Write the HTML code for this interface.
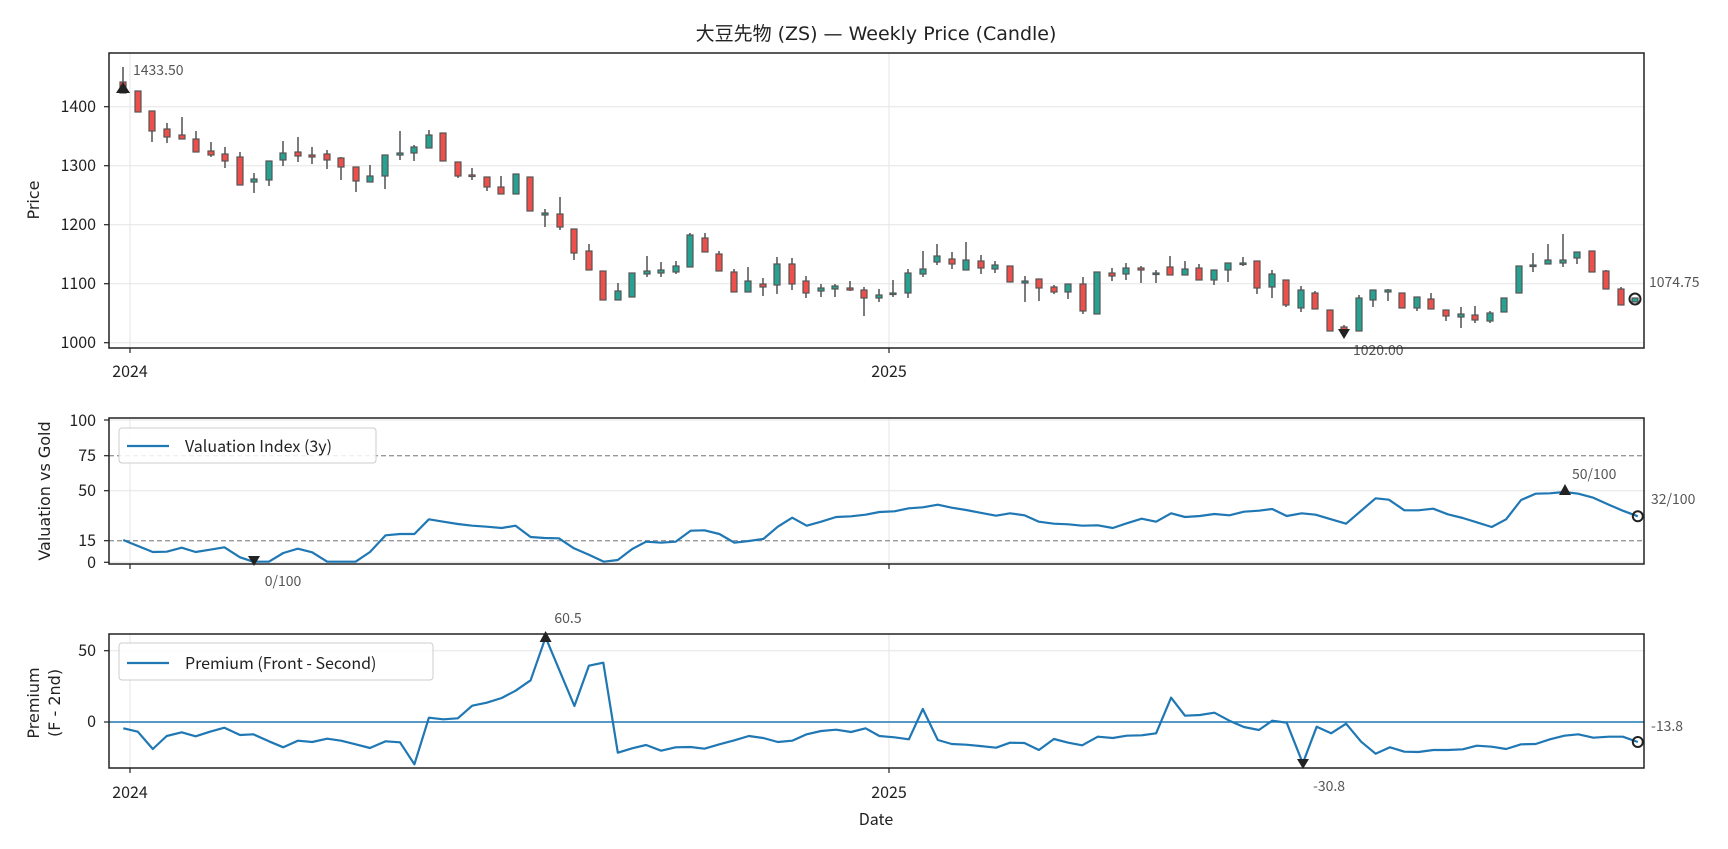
<!DOCTYPE html>
<html><head><meta charset="utf-8"><style>
html,body{margin:0;padding:0;background:#fff}
svg{display:block}
.tk{font-family:"Noto Sans CJK JP","IPAGothic",sans-serif;font-size:16px;fill:#222}
.an{font-family:"Noto Sans CJK JP","IPAGothic",sans-serif;font-size:14px;fill:#555}
.lb{font-family:"DejaVu Sans","Liberation Sans",sans-serif;font-size:16px;fill:#222}
.r{fill:#ef4f4a;stroke:#555;stroke-width:1.2}
.t{fill:#26a192;stroke:#555;stroke-width:1.2}
.w{stroke:#444;stroke-width:1.4}
.g{stroke:#e6e6e6;stroke-width:1}
</style></head><body>
<svg width="1728" height="849" xmlns="http://www.w3.org/2000/svg">
<text x="876" y="40" text-anchor="middle" font-family="DejaVu Sans, Noto Sans CJK JP, sans-serif" font-size="19" fill="#222">大豆先物 (ZS) — Weekly Price (Candle)</text>

<g class="g">
<line x1="109" x2="1644" y1="106.7" y2="106.7"/><line x1="109" x2="1644" y1="165.7" y2="165.7"/><line x1="109" x2="1644" y1="224.7" y2="224.7"/><line x1="109" x2="1644" y1="283.7" y2="283.7"/><line x1="109" x2="1644" y1="342.7" y2="342.7"/>
<line x1="130" x2="130" y1="53" y2="348"/><line x1="889" x2="889" y1="53" y2="348"/>
<line x1="109" x2="1644" y1="490.7" y2="490.7"/><line x1="109" x2="1644" y1="562.3" y2="562.3"/><line x1="109" x2="1644" y1="420" y2="420"/>
<line x1="130" x2="130" y1="418" y2="564"/><line x1="889" x2="889" y1="418" y2="564"/>
<line x1="109" x2="1644" y1="650.7" y2="650.7"/>
<line x1="130" x2="130" y1="634" y2="768"/><line x1="889" x2="889" y1="634" y2="768"/>
</g>
<g id="candles">
<line class="w" x1="123" x2="123" y1="67" y2="93"/><rect class="r" x="120" y="82" width="6" height="11"/>
<line class="w" x1="138" x2="138" y1="91" y2="112"/><rect class="r" x="135" y="91" width="6" height="21"/>
<line class="w" x1="152" x2="152" y1="111" y2="142"/><rect class="r" x="149" y="111" width="6" height="20"/>
<line class="w" x1="167" x2="167" y1="123" y2="143"/><rect class="r" x="164" y="129" width="6" height="8"/>
<line class="w" x1="182" x2="182" y1="117" y2="139"/><rect class="r" x="179" y="135" width="6" height="4"/>
<line class="w" x1="196" x2="196" y1="131" y2="152"/><rect class="r" x="193" y="139" width="6" height="13"/>
<line class="w" x1="211" x2="211" y1="142" y2="157"/><rect class="r" x="208" y="151" width="6" height="4"/>
<line class="w" x1="225" x2="225" y1="147" y2="168"/><rect class="r" x="222" y="154" width="6" height="7"/>
<line class="w" x1="240" x2="240" y1="152" y2="185"/><rect class="r" x="237" y="157" width="6" height="28"/>
<line class="w" x1="254" x2="254" y1="173" y2="193"/><rect class="t" x="251" y="179" width="6" height="3"/>
<line class="w" x1="269" x2="269" y1="161" y2="186"/><rect class="t" x="266" y="161" width="6" height="19"/>
<line class="w" x1="283" x2="283" y1="141" y2="166"/><rect class="t" x="280" y="153" width="6" height="7"/>
<line class="w" x1="298" x2="298" y1="137" y2="162"/><rect class="r" x="295" y="152" width="6" height="4"/>
<line class="w" x1="312" x2="312" y1="147" y2="164"/><rect class="r" x="309" y="155" width="6" height="2"/>
<line class="w" x1="327" x2="327" y1="150" y2="169"/><rect class="r" x="324" y="154" width="6" height="6"/>
<line class="w" x1="341" x2="341" y1="157" y2="180"/><rect class="r" x="338" y="158" width="6" height="9"/>
<line class="w" x1="356" x2="356" y1="167" y2="192"/><rect class="r" x="353" y="167" width="6" height="14"/>
<line class="w" x1="370" x2="370" y1="165" y2="182"/><rect class="t" x="367" y="176" width="6" height="6"/>
<line class="w" x1="385" x2="385" y1="155" y2="189"/><rect class="t" x="382" y="155" width="6" height="21"/>
<line class="w" x1="400" x2="400" y1="131" y2="160"/><rect class="t" x="397" y="153" width="6" height="2"/>
<line class="w" x1="414" x2="414" y1="145" y2="161"/><rect class="t" x="411" y="147" width="6" height="6"/>
<line class="w" x1="429" x2="429" y1="130" y2="148"/><rect class="t" x="426" y="135" width="6" height="13"/>
<line class="w" x1="443" x2="443" y1="133" y2="161"/><rect class="r" x="440" y="133" width="6" height="28"/>
<line class="w" x1="458" x2="458" y1="162" y2="178"/><rect class="r" x="455" y="162" width="6" height="14"/>
<line class="w" x1="472" x2="472" y1="168" y2="180"/><rect class="r" x="469" y="175" width="6" height="1.5"/>
<line class="w" x1="487" x2="487" y1="177" y2="191"/><rect class="r" x="484" y="177" width="6" height="10"/>
<line class="w" x1="501" x2="501" y1="176" y2="194"/><rect class="r" x="498" y="187" width="6" height="7"/>
<line class="w" x1="516" x2="516" y1="174" y2="194"/><rect class="t" x="513" y="174" width="6" height="20"/>
<line class="w" x1="530" x2="530" y1="177" y2="211"/><rect class="r" x="527" y="177" width="6" height="34"/>
<line class="w" x1="545" x2="545" y1="209" y2="227"/><rect class="t" x="542" y="213" width="6" height="2"/>
<line class="w" x1="560" x2="560" y1="197" y2="230"/><rect class="r" x="557" y="214" width="6" height="13"/>
<line class="w" x1="574" x2="574" y1="229" y2="260"/><rect class="r" x="571" y="229" width="6" height="24"/>
<line class="w" x1="589" x2="589" y1="244" y2="270"/><rect class="r" x="586" y="251" width="6" height="19"/>
<line class="w" x1="603" x2="603" y1="271" y2="300"/><rect class="r" x="600" y="271" width="6" height="29"/>
<line class="w" x1="618" x2="618" y1="283" y2="300"/><rect class="t" x="615" y="291" width="6" height="9"/>
<line class="w" x1="632" x2="632" y1="273" y2="297"/><rect class="t" x="629" y="273" width="6" height="24"/>
<line class="w" x1="647" x2="647" y1="256" y2="277"/><rect class="t" x="644" y="271" width="6" height="3"/>
<line class="w" x1="661" x2="661" y1="262" y2="277"/><rect class="t" x="658" y="270" width="6" height="3"/>
<line class="w" x1="676" x2="676" y1="261" y2="274"/><rect class="t" x="673" y="266" width="6" height="6"/>
<line class="w" x1="690" x2="690" y1="233" y2="267"/><rect class="t" x="687" y="235" width="6" height="32"/>
<line class="w" x1="705" x2="705" y1="233" y2="252"/><rect class="r" x="702" y="238" width="6" height="14"/>
<line class="w" x1="719" x2="719" y1="251" y2="271"/><rect class="r" x="716" y="254" width="6" height="17"/>
<line class="w" x1="734" x2="734" y1="269" y2="292"/><rect class="r" x="731" y="272" width="6" height="20"/>
<line class="w" x1="748" x2="748" y1="267" y2="292"/><rect class="t" x="745" y="281" width="6" height="11"/>
<line class="w" x1="763" x2="763" y1="278" y2="296"/><rect class="r" x="760" y="284" width="6" height="3"/>
<line class="w" x1="777" x2="777" y1="257" y2="294"/><rect class="t" x="774" y="264" width="6" height="21"/>
<line class="w" x1="792" x2="792" y1="258" y2="290"/><rect class="r" x="789" y="264" width="6" height="20"/>
<line class="w" x1="806" x2="806" y1="276" y2="298"/><rect class="r" x="803" y="281" width="6" height="12"/>
<line class="w" x1="821" x2="821" y1="284" y2="297"/><rect class="t" x="818" y="288" width="6" height="3"/>
<line class="w" x1="835" x2="835" y1="284" y2="297"/><rect class="t" x="832" y="286" width="6" height="3"/>
<line class="w" x1="850" x2="850" y1="281" y2="291"/><rect class="r" x="847" y="288" width="6" height="2"/>
<line class="w" x1="864" x2="864" y1="287" y2="316"/><rect class="r" x="861" y="290" width="6" height="8"/>
<line class="w" x1="879" x2="879" y1="289" y2="302"/><rect class="t" x="876" y="295" width="6" height="3"/>
<line class="w" x1="893" x2="893" y1="280" y2="297"/><rect class="t" x="890" y="293" width="6" height="1.5"/>
<line class="w" x1="908" x2="908" y1="269" y2="298"/><rect class="t" x="905" y="273" width="6" height="20"/>
<line class="w" x1="923" x2="923" y1="251" y2="277"/><rect class="t" x="920" y="269" width="6" height="5"/>
<line class="w" x1="937" x2="937" y1="244" y2="265"/><rect class="t" x="934" y="256" width="6" height="6"/>
<line class="w" x1="952" x2="952" y1="252" y2="269"/><rect class="r" x="949" y="259" width="6" height="5"/>
<line class="w" x1="966" x2="966" y1="242" y2="270"/><rect class="t" x="963" y="260" width="6" height="10"/>
<line class="w" x1="981" x2="981" y1="255" y2="274"/><rect class="r" x="978" y="261" width="6" height="7"/>
<line class="w" x1="995" x2="995" y1="261" y2="273"/><rect class="t" x="992" y="265" width="6" height="4"/>
<line class="w" x1="1010" x2="1010" y1="266" y2="282"/><rect class="r" x="1007" y="266" width="6" height="16"/>
<line class="w" x1="1025" x2="1025" y1="276" y2="302"/><rect class="t" x="1022" y="281" width="6" height="2"/>
<line class="w" x1="1039" x2="1039" y1="279" y2="301"/><rect class="r" x="1036" y="279" width="6" height="9"/>
<line class="w" x1="1054" x2="1054" y1="285" y2="294"/><rect class="r" x="1051" y="287" width="6" height="5"/>
<line class="w" x1="1068" x2="1068" y1="284" y2="299"/><rect class="t" x="1065" y="284" width="6" height="8"/>
<line class="w" x1="1083" x2="1083" y1="277" y2="314"/><rect class="r" x="1080" y="284" width="6" height="27"/>
<line class="w" x1="1097" x2="1097" y1="272" y2="314"/><rect class="t" x="1094" y="272" width="6" height="42"/>
<line class="w" x1="1112" x2="1112" y1="268" y2="281"/><rect class="r" x="1109" y="273" width="6" height="3"/>
<line class="w" x1="1126" x2="1126" y1="263" y2="280"/><rect class="t" x="1123" y="268" width="6" height="6"/>
<line class="w" x1="1141" x2="1141" y1="266" y2="283"/><rect class="r" x="1138" y="268" width="6" height="2"/>
<line class="w" x1="1156" x2="1156" y1="270" y2="283"/><rect class="t" x="1153" y="273" width="6" height="1.5"/>
<line class="w" x1="1170" x2="1170" y1="256" y2="275"/><rect class="r" x="1167" y="267" width="6" height="8"/>
<line class="w" x1="1185" x2="1185" y1="261" y2="275"/><rect class="t" x="1182" y="269" width="6" height="6"/>
<line class="w" x1="1199" x2="1199" y1="264" y2="280"/><rect class="r" x="1196" y="268" width="6" height="12"/>
<line class="w" x1="1214" x2="1214" y1="270" y2="285"/><rect class="t" x="1211" y="270" width="6" height="10"/>
<line class="w" x1="1228" x2="1228" y1="263" y2="282"/><rect class="t" x="1225" y="263" width="6" height="7"/>
<line class="w" x1="1243" x2="1243" y1="257" y2="266"/><rect class="t" x="1240" y="263" width="6" height="1.5"/>
<line class="w" x1="1257" x2="1257" y1="261" y2="294"/><rect class="r" x="1254" y="261" width="6" height="27"/>
<line class="w" x1="1272" x2="1272" y1="270" y2="298"/><rect class="t" x="1269" y="274" width="6" height="13"/>
<line class="w" x1="1286" x2="1286" y1="280" y2="307"/><rect class="r" x="1283" y="280" width="6" height="25"/>
<line class="w" x1="1301" x2="1301" y1="286" y2="312"/><rect class="t" x="1298" y="290" width="6" height="18"/>
<line class="w" x1="1315" x2="1315" y1="291" y2="309"/><rect class="r" x="1312" y="293" width="6" height="16"/>
<line class="w" x1="1330" x2="1330" y1="310" y2="331"/><rect class="r" x="1327" y="310" width="6" height="21"/>
<line class="w" x1="1344" x2="1344" y1="325" y2="332"/><rect class="r" x="1341" y="327" width="6" height="3"/>
<line class="w" x1="1359" x2="1359" y1="295" y2="331"/><rect class="t" x="1356" y="298" width="6" height="33"/>
<line class="w" x1="1373" x2="1373" y1="290" y2="307"/><rect class="t" x="1370" y="290" width="6" height="10"/>
<line class="w" x1="1388" x2="1388" y1="289" y2="301"/><rect class="t" x="1385" y="290" width="6" height="2"/>
<line class="w" x1="1402" x2="1402" y1="293" y2="308"/><rect class="r" x="1399" y="293" width="6" height="15"/>
<line class="w" x1="1417" x2="1417" y1="297" y2="311"/><rect class="t" x="1414" y="297" width="6" height="11"/>
<line class="w" x1="1431" x2="1431" y1="293" y2="309"/><rect class="r" x="1428" y="299" width="6" height="10"/>
<line class="w" x1="1446" x2="1446" y1="310" y2="321"/><rect class="r" x="1443" y="310" width="6" height="6"/>
<line class="w" x1="1461" x2="1461" y1="307" y2="328"/><rect class="t" x="1458" y="314" width="6" height="3"/>
<line class="w" x1="1475" x2="1475" y1="306" y2="323"/><rect class="r" x="1472" y="315" width="6" height="5"/>
<line class="w" x1="1490" x2="1490" y1="311" y2="323"/><rect class="t" x="1487" y="313" width="6" height="8"/>
<line class="w" x1="1504" x2="1504" y1="298" y2="312"/><rect class="t" x="1501" y="298" width="6" height="14"/>
<line class="w" x1="1519" x2="1519" y1="266" y2="293"/><rect class="t" x="1516" y="266" width="6" height="27"/>
<line class="w" x1="1533" x2="1533" y1="253" y2="272"/><rect class="t" x="1530" y="265" width="6" height="1.5"/>
<line class="w" x1="1548" x2="1548" y1="244" y2="264"/><rect class="t" x="1545" y="260" width="6" height="4"/>
<line class="w" x1="1563" x2="1563" y1="234" y2="267"/><rect class="t" x="1560" y="260" width="6" height="3"/>
<line class="w" x1="1577" x2="1577" y1="252" y2="264"/><rect class="t" x="1574" y="252" width="6" height="6"/>
<line class="w" x1="1592" x2="1592" y1="251" y2="272"/><rect class="r" x="1589" y="251" width="6" height="21"/>
<line class="w" x1="1606" x2="1606" y1="270" y2="289"/><rect class="r" x="1603" y="271" width="6" height="18"/>
<line class="w" x1="1621" x2="1621" y1="287" y2="305"/><rect class="r" x="1618" y="289" width="6" height="16"/>
<line class="w" x1="1635" x2="1635" y1="298" y2="302"/><rect class="t" x="1632" y="298" width="6" height="4"/>
</g>
<polygon points="123,82 116,93 130,93" fill="#222"/>
<polygon points="1344,339 1338,329 1350,329" fill="#222"/>
<circle cx="1635" cy="299" r="5.5" fill="none" stroke="#222" stroke-width="2"/>
<text class="an" x="133" y="75">1433.50</text>
<text class="an" x="1353" y="355">1020.00</text>
<text class="an" x="1649" y="287">1074.75</text>
<rect x="109" y="53" width="1535" height="295" fill="none" stroke="#222" stroke-width="1.5"/>
<g class="tk" text-anchor="end">
<text x="96" y="112">1400</text><text x="96" y="171">1300</text><text x="96" y="230">1200</text><text x="96" y="289">1100</text><text x="96" y="348">1000</text>
</g>
<g stroke="#222" stroke-width="1.2">
<line x1="104" x2="109" y1="106.7" y2="106.7"/><line x1="104" x2="109" y1="165.7" y2="165.7"/><line x1="104" x2="109" y1="224.7" y2="224.7"/><line x1="104" x2="109" y1="283.7" y2="283.7"/><line x1="104" x2="109" y1="342.7" y2="342.7"/>
<line x1="130" x2="130" y1="348" y2="353"/><line x1="889" x2="889" y1="348" y2="353"/>
</g>
<text class="tk" x="130" y="377" text-anchor="middle">2024</text>
<text class="tk" x="889" y="377" text-anchor="middle">2025</text>
<text class="lb" transform="translate(39,200) rotate(-90)" text-anchor="middle">Price</text>

<g stroke="#999" stroke-width="1.3" stroke-dasharray="5,3">
<line x1="109" x2="1644" y1="455.7" y2="455.7"/><line x1="109" x2="1644" y1="540.7" y2="540.7"/>
</g>
<polyline fill="none" stroke="#1f77b4" stroke-width="2.2" stroke-linejoin="round" points="123.3,540 152.8,552 166.7,551.7 181.7,547.7 195.6,552 210,549.7 224.4,547.3 240,557.3 253.3,561.7 268.9,561.7 283.3,553 297.8,548.7 312.2,552.3 327.2,561.7 355.6,561.7 370,552 385.6,535.3 400,534 414.4,534 428.9,519.3 443.3,521.7 457.8,524 472.2,525.7 486.7,526.7 501.7,528 515.6,525.7 530.6,537 544.4,538 558.9,538.3 573.9,548.3 588.9,554.7 603.9,561.7 617.8,560 632.2,549 646.1,541.7 661.1,542.7 675.6,541.7 690.6,530.7 704.4,530.3 719.4,534 734.4,542.7 748.9,541 763.3,539 777.8,526.7 792.2,517.7 806.7,525.7 821.1,521.7 836.1,517 851.1,516.3 865.6,514.7 879.4,512 894.4,511.3 908.9,508.3 922.8,507.3 937.8,504.7 951.7,507.7 966.1,510 980,512.7 996.1,515.7 1010,513.3 1024.4,515.3 1038.9,521.7 1053.9,523.7 1068.3,524.3 1082.2,525.7 1097.8,525.3 1112.8,528 1126.7,523.3 1141.7,518.7 1156.1,521.7 1171.1,513.3 1185,517 1200,516 1214.4,514 1229.4,515.3 1243.9,511.7 1258.9,510.7 1272.2,509 1286.7,516 1301.7,513.3 1315.6,514.7 1331.1,519.3 1346.1,523.7 1375.6,498.3 1388.9,499.7 1404.4,510.3 1418.3,510.3 1433.3,508.7 1447.8,514.3 1462.8,518 1476.7,522.3 1491.7,527 1506.1,519.3 1521.1,500 1535.6,493.7 1550,493.3 1564.4,492 1578.3,493.7 1593.3,497.7 1608.9,504.7 1622.8,510.7 1637.8,516.3"/>
<polygon points="254,566 248,556 260,556" fill="#222"/>
<polygon points="1565,484 1559,495 1571,495" fill="#222"/>
<circle cx="1637.8" cy="516.3" r="5" fill="none" stroke="#222" stroke-width="2"/>
<text class="an" x="283" y="586" text-anchor="middle">0/100</text>
<text class="an" x="1572" y="479">50/100</text>
<text class="an" x="1651" y="504">32/100</text>
<rect x="119" y="428" width="257" height="35" rx="3" fill="#fff" fill-opacity="0.85" stroke="#ccc"/>
<line x1="127" x2="169" y1="446" y2="446" stroke="#1f77b4" stroke-width="2.2"/>
<text class="tk" x="185" y="452">Valuation Index (3y)</text>
<rect x="109" y="418" width="1535" height="146" fill="none" stroke="#222" stroke-width="1.5"/>
<g class="tk" text-anchor="end">
<text x="96" y="426">100</text><text x="96" y="461">75</text><text x="96" y="496">50</text><text x="96" y="546">15</text><text x="96" y="568">0</text>
</g>
<g stroke="#222" stroke-width="1.2">
<line x1="104" x2="109" y1="420" y2="420"/><line x1="104" x2="109" y1="455.7" y2="455.7"/><line x1="104" x2="109" y1="490.7" y2="490.7"/><line x1="104" x2="109" y1="540.7" y2="540.7"/><line x1="104" x2="109" y1="562.3" y2="562.3"/>
<line x1="130" x2="130" y1="564" y2="569"/><line x1="889" x2="889" y1="564" y2="569"/>
</g>
<text class="lb" transform="translate(50,491) rotate(-90)" text-anchor="middle">Valuation vs Gold</text>

<line x1="109" x2="1644" y1="722" y2="722" stroke="#1f77b4" stroke-width="1.4"/>
<polyline fill="none" stroke="#1f77b4" stroke-width="2.2" stroke-linejoin="round" points="123.3,728.3 137.8,731.7 152.8,749 166.7,736 181.7,732.3 195.6,736.3 210,731.7 224.4,727.7 240,735 253.3,734.3 268.9,741.3 283.3,747.3 297.8,740.7 312.2,742 327.2,738.7 341.1,740.7 355.6,744.3 370,748 385.6,741.3 400,742.3 414.4,764.3 428.9,717.7 443.3,719.3 457.8,718.3 472.2,705.7 486.7,702.7 501.7,698 515.6,690.7 530.6,680.3 545.6,637.3 560,671.7 574.4,706 588.9,665.7 603.3,662.7 617.8,752.7 632.2,748.3 646.1,745 661.1,750.7 675.6,747.3 690.6,747 704.4,748.7 719.4,744.3 734.4,740.3 748.9,736 763.3,738 777.8,742 792.2,740.7 806.7,734.3 821.1,731 836.1,729.7 851.1,732 865.6,728.3 879.4,736 894.4,737.3 908.9,739.3 922.8,709 937.8,740 951.7,744 966.1,744.7 980,746 996.1,747.7 1010,742.7 1024.4,743 1038.9,750 1053.9,739 1068.3,742.7 1082.2,745.3 1097.8,736.7 1112.8,738 1126.7,735.7 1141.7,735.3 1156.1,733.3 1171.1,697.7 1185,715.7 1200,715 1214.4,712.7 1229.4,720.7 1243.9,727 1258.9,730 1272.2,720.7 1286.7,722.7 1302.8,763.3 1316.7,726.7 1331.1,733.3 1346.1,723.7 1361.1,741.7 1375.6,753.7 1390,747.3 1404.4,751.7 1418.3,752 1433.3,750 1447.8,750 1462.8,749.3 1476.7,745.7 1491.7,746.7 1506.1,749 1521.1,744.3 1535.6,744 1550,739.3 1564.4,735.7 1578.3,734.3 1593.3,737.7 1608.9,736.7 1622.8,736.7 1637.8,742"/>
<polygon points="545.6,631 539.6,642 551.6,642" fill="#222"/>
<polygon points="1303,769 1297,759 1309,759" fill="#222"/>
<circle cx="1637.8" cy="742" r="5" fill="none" stroke="#222" stroke-width="2"/>
<text class="an" x="568" y="623" text-anchor="middle">60.5</text>
<text class="an" x="1329" y="791" text-anchor="middle">-30.8</text>
<text class="an" x="1651" y="731">-13.8</text>
<rect x="119" y="643" width="314" height="37" rx="3" fill="#fff" fill-opacity="0.85" stroke="#ccc"/>
<line x1="127" x2="169" y1="663" y2="663" stroke="#1f77b4" stroke-width="2.2"/>
<text class="tk" x="185" y="669">Premium (Front - Second)</text>
<rect x="109" y="634" width="1535" height="134" fill="none" stroke="#222" stroke-width="1.5"/>
<g class="tk" text-anchor="end">
<text x="96" y="656">50</text><text x="96" y="727">0</text>
</g>
<g stroke="#222" stroke-width="1.2">
<line x1="104" x2="109" y1="650.7" y2="650.7"/><line x1="104" x2="109" y1="722" y2="722"/>
<line x1="130" x2="130" y1="768" y2="773"/><line x1="889" x2="889" y1="768" y2="773"/>
</g>
<text class="tk" x="130" y="798" text-anchor="middle">2024</text>
<text class="tk" x="889" y="798" text-anchor="middle">2025</text>
<text class="tk" x="876" y="825" text-anchor="middle">Date</text>
<text class="lb" transform="translate(39,703) rotate(-90)" text-anchor="middle">Premium</text>
<text class="lb" transform="translate(60,703) rotate(-90)" text-anchor="middle">(F - 2nd)</text>
</svg>
</body></html>
